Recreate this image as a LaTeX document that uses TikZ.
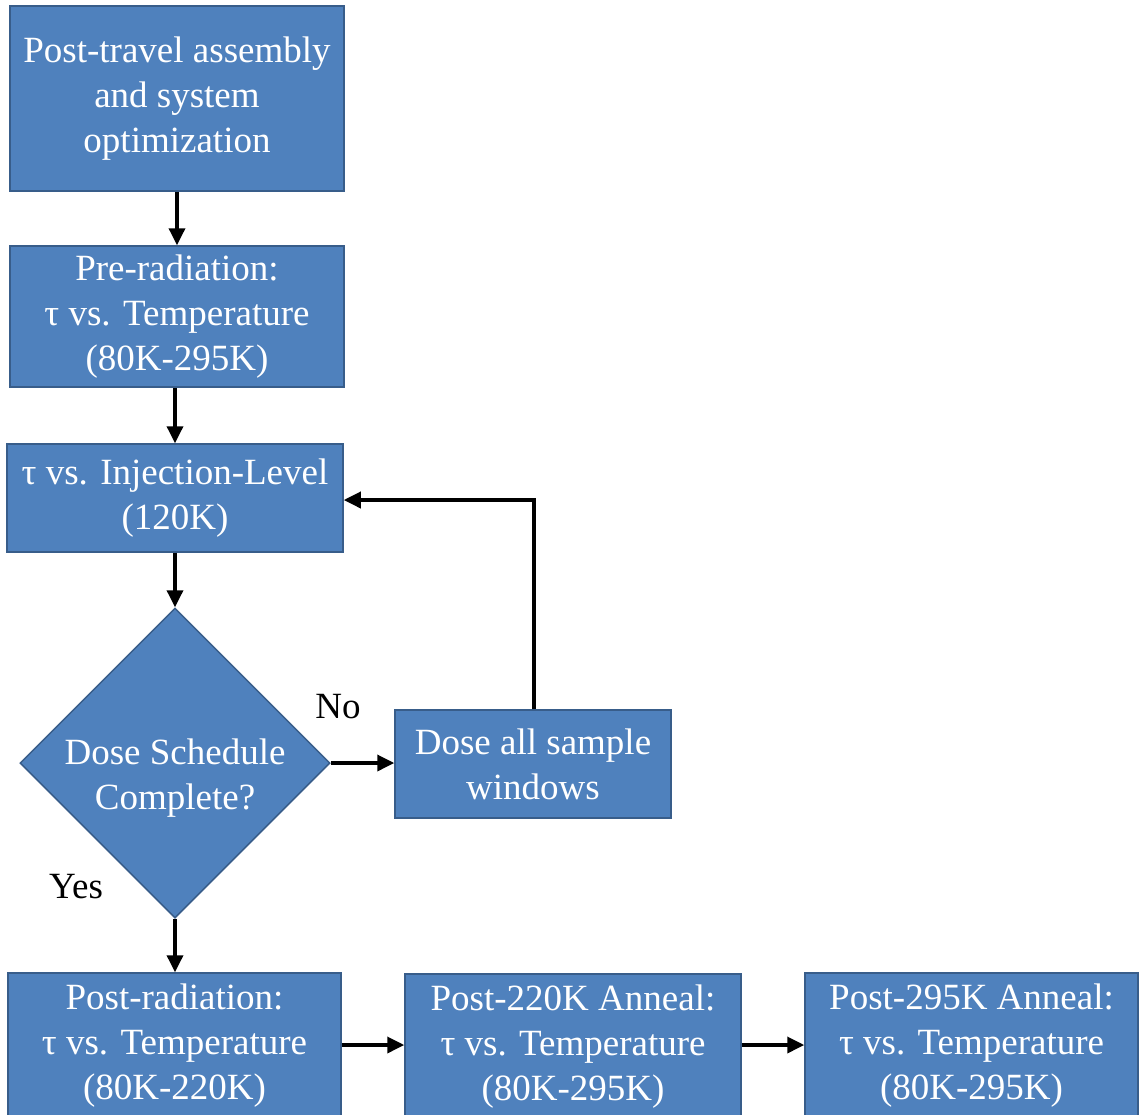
\documentclass[tikz,border=0pt]{standalone}
\usepackage{fontspec}
\setmainfont{Liberation Serif}
\usetikzlibrary{shapes.geometric,arrows.meta}
\definecolor{boxfill}{HTML}{4F81BD}
\definecolor{boxedge}{HTML}{385D8A}
\tikzset{
  box/.style={draw=boxedge, line width=1.5pt, fill=boxfill, text=white, align=center,
    inner sep=0pt, font=\fontsize{37}{45}\selectfont},
  dia/.style={diamond, draw=boxedge, line width=1.5pt, fill=boxfill, inner sep=0pt,
    minimum width=310pt, minimum height=310pt, shape aspect=1},
  lbl/.style={text=black, inner sep=0pt, font=\fontsize{37}{45}\selectfont},
  wlbl/.style={text=white, inner sep=0pt, align=center, font=\fontsize{37}{45}\selectfont},
  conn/.style={line width=3.5pt, -{Triangle[length=17pt,width=16pt]}}
}
\begin{document}
\begin{tikzpicture}[x=1pt,y=-1pt]
\clip (0,0) rectangle (1139,1114);
\fill[white] (0,0) rectangle (1139,1114);
\node[box, minimum width=334pt, minimum height=185pt] (b1) at (177,98.5)
  {Post-travel assembly\\and system\\optimization};
\node[box, minimum width=334pt, minimum height=141pt] (b2) at (177,316.5)
  {Pre-radiation:\\τ vs. Temperature\\(80K-295K)};
\node[box, minimum width=336pt, minimum height=108pt] (b3) at (175,498)
  {τ vs. Injection-Level\\(120K)};
\node[dia] (d) at (175,763) {};
\node[wlbl] (dt) at (175,778) {Dose Schedule\\Complete?};
\node[box, minimum width=276pt, minimum height=108pt] (dose) at (533,764)
  {Dose all sample\\windows};
\node[box, minimum width=333pt, minimum height=145pt] (pa) at (174.5,1045.5)
  {Post-radiation:\\τ vs. Temperature\\(80K-220K)};
\node[box, minimum width=336pt, minimum height=145pt] (pb) at (573,1046.5)
  {Post-220K Anneal:\\τ vs. Temperature\\(80K-295K)};
\node[box, minimum width=333pt, minimum height=145pt] (pc) at (971.5,1045.5)
  {Post-295K Anneal:\\τ vs. Temperature\\(80K-295K)};
\node[lbl] (no) at (338,707) {No};
\node[lbl] (yes) at (76,887) {Yes};
\coordinate (up) at (534,500);
\draw[conn] (b1.south -| 177,0) -- (b2.north -| 177,0);
\draw[conn] (b2.south -| 175,0) -- (b3.north -| 175,0);
\draw[conn] (b3.south -| 175,0) -- (d.north);
\draw[conn] (d.south) -- (pa.north -| 175,0);
\draw[conn] (d.east) -- (d.east -| dose.west);
\draw[conn] (dose.north -| up) -- (up) -- (up -| b3.east);
\draw[conn] (pa.east |- 0,1045) -- (pb.west |- 0,1045);
\draw[conn] (pb.east |- 0,1045) -- (pc.west |- 0,1045);
\end{tikzpicture}
\end{document}
